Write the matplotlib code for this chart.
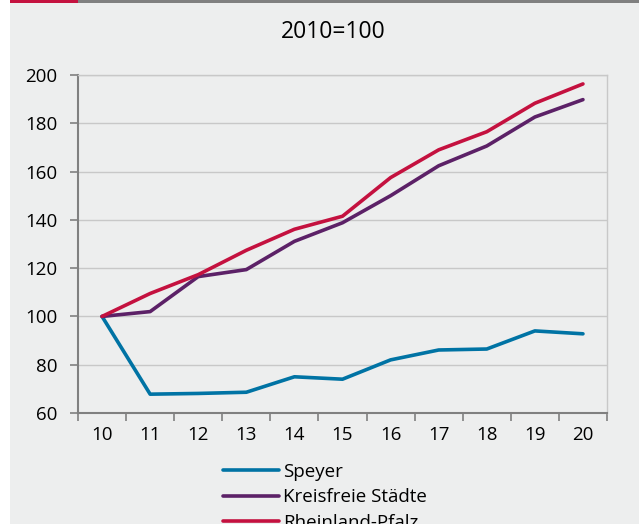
import matplotlib
matplotlib.use("Agg")
import matplotlib.pyplot as plt
from matplotlib.patches import Rectangle
import numpy as np

years = ['10', '11', '12', '13', '14', '15', '16', '17', '18', '19', '20']
speyer = [100, 67.8, 68.1, 68.6, 75.0, 74.0, 82.0, 86.1, 86.5, 94.0, 92.8]
kreisfreie = [100, 102.0, 116.5, 119.4, 131.1, 138.8, 150.0, 162.4, 170.6, 182.6, 189.8]
rlp = [100, 109.5, 117.3, 127.4, 136.1, 141.5, 157.5, 169.0, 176.5, 188.3, 196.3]

series = ['Speyer', 'Kreisfreie Städte', 'Rheinland-Pfalz']
colors = ['#0073A4', '#5C2167', '#C4113F']

bg = '#EDEEEE'
plt.rcParams['font.family'] = ['Open Sans', 'DejaVu Sans']

fig = plt.figure(figsize=(6.39, 5.24), dpi=100, facecolor='white')
# gray panel + top bar
fig.patches.append(Rectangle((10/639, 0), 1 - 10/639, 1, transform=fig.transFigure,
                             facecolor=bg, edgecolor='none', zorder=-10))
fig.patches.append(Rectangle((10/639, 1 - 3/524), 1 - 10/639, 3/524, transform=fig.transFigure,
                             facecolor='#808080', edgecolor='none', zorder=-5))
fig.patches.append(Rectangle((10/639, 1 - 3/524), 68/639, 3/524, transform=fig.transFigure,
                             facecolor='#C4113F', edgecolor='none', zorder=-4))

ax = fig.add_axes([78/639, 111/524, 529/639, 338/524])
ax.set_facecolor(bg)
x = np.arange(len(years))
for vals, name, c in zip([speyer, kreisfreie, rlp], series, colors):
    ax.plot(x, vals, color=c, lw=2.6, label=name, solid_capstyle='round', zorder=3)

ax.set_xlim(-0.5, len(years) - 0.5)
ax.set_ylim(60, 200)
ax.set_yticks(range(60, 201, 20))
ax.set_xticks(x)
ax.set_xticklabels(years)
ax.set_xticks(np.arange(-0.5, len(years)), minor=True)
ax.tick_params(axis='x', which='major', length=0, pad=9, labelsize=13.5)
ax.tick_params(axis='x', which='minor', length=6, width=1.2, color='#808080', direction='out')
ax.tick_params(axis='y', length=6, width=1.2, color='#808080', pad=9, labelsize=13.5)
ax.grid(axis='y', color='#C8C8C8', lw=1)
ax.set_axisbelow(True)
for s in ['left', 'bottom']:
    ax.spines[s].set_color('#808080')
    ax.spines[s].set_linewidth(1.5)
ax.spines['top'].set_color('#C8C8C8')
ax.spines['top'].set_linewidth(1)
ax.spines['right'].set_color('#C8C8C8')
ax.spines['right'].set_linewidth(1)

fig.text(333/639, 1 - 32/524, '2010=100', ha='center', va='center', fontsize=16.5)

fig.legend(loc='upper left', bbox_to_anchor=(223/639, 1 - 463/524), frameon=False,
           fontsize=13.5, handlelength=3.0, handletextpad=0.2, labelspacing=0.4,
           borderpad=0, borderaxespad=0)

fig.savefig('out.png', dpi=100, facecolor=fig.get_facecolor())
